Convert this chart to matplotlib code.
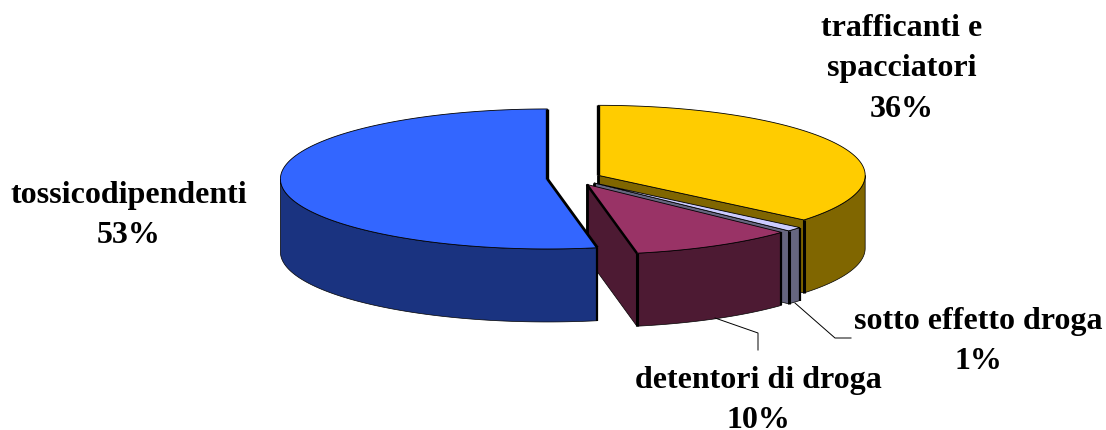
import numpy as np
import matplotlib
matplotlib.use("Agg")
import matplotlib.pyplot as plt
from matplotlib.patches import Polygon

# categories and percentages, clockwise from 12 o'clock
labels = ["trafficanti e\nspacciatori", "sotto effetto droga", "detentori di droga", "tossicodipendenti"]
values = [36, 1, 10, 53]
top_colors = ["#FFCC00", "#CCCCFF", "#993366", "#3366FF"]
side_colors = ["#806600", "#666680", "#4D1A33", "#1A3380"]

# label blocks: centre x, baseline of the first line
label_xy = [(902, 36), (978, 329), (758, 388), (129, 203)]

# pie geometry in pixels
cx, cy = 574, 178.3
rx, ry = 267, 70
depth = 73
explode = 0.1

plt.rcParams["font.family"] = ["Liberation Serif", "DejaVu Serif"]
fig = plt.figure(figsize=(11.06, 4.30), dpi=100)
ax = fig.add_axes([0, 0, 1, 1])
ax.set_xlim(0, 1106)
ax.set_ylim(430, 0)
ax.axis("off")


def rim(x0, y0, a, b):
    # points on the ellipse between two angles (degrees from 12 o'clock)
    t = np.radians(np.linspace(a, b, max(int(abs(b - a) * 2), 2)))
    return np.column_stack([x0 + rx * np.sin(t), y0 - ry * np.cos(t)])


def seg(p, q, lw):
    # same zorder as the patches so that later slices cover it
    ax.plot([p[0], q[0]], [p[1], q[1]], color="black", lw=lw, zorder=1, solid_capstyle="butt")


def draw_slice(start, end, top_col, side_col):
    mid = np.radians((start + end) / 2)
    apex = np.array([cx + explode * rx * np.sin(mid), cy - explode * ry * np.cos(mid)])
    edge = rim(apex[0], apex[1], start, end)
    down = np.array([0, depth])

    # cut face on the clockwise end, only when it turns towards the viewer
    if end < 180:
        face = np.array([apex, edge[-1], edge[-1] + down, apex + down])
        ax.add_patch(Polygon(face, fc=side_col, ec="black", lw=0.5))
        seg(apex, apex + down, 2.0)

    # outer wall, front half of the ellipse only
    a, b = max(start, 90), min(end, 270)
    if b > a:
        front = rim(apex[0], apex[1], a, b)
        wall = np.vstack([front, (front + down)[::-1]])
        ax.add_patch(Polygon(wall, fc=side_col, ec="black", lw=0.5))
        if a > 90:
            seg(front[0], front[0] + down, 1.6)
        if b < 270:
            seg(front[-1], front[-1] + down, 2.2)

    # top face
    ax.add_patch(Polygon(np.vstack([apex, edge]), fc=top_col, ec="black", lw=0.6))

    # heavy edges around the centre of the slice
    if start == 0 or end == 360:
        seg(apex + [0, -ry], apex, 2.4)
    if 160 < end < 180:
        seg(apex, edge[-1], 1.8)
    if 160 < start < 180:
        seg(apex, edge[0], 2.0)


bounds = np.cumsum([0] + values) * 3.6
for i in range(len(values)):
    draw_slice(bounds[i], bounds[i + 1], top_colors[i], side_colors[i])

# leader lines
ax.plot([715, 758, 758], [318, 333, 350], color="black", lw=0.7)
ax.plot([795, 835, 851], [303, 338, 338], color="black", lw=0.7)

for name, v, (x, y) in zip(labels, values, label_xy):
    lines = name.split("\n") + [f"{v}%"]
    for k, line in enumerate(lines):
        ax.text(x, y + k * 40.3, line, ha="center", va="baseline", fontsize=23,
                fontweight="bold", color="black")

fig.savefig("out.png", dpi=100, facecolor="white")
